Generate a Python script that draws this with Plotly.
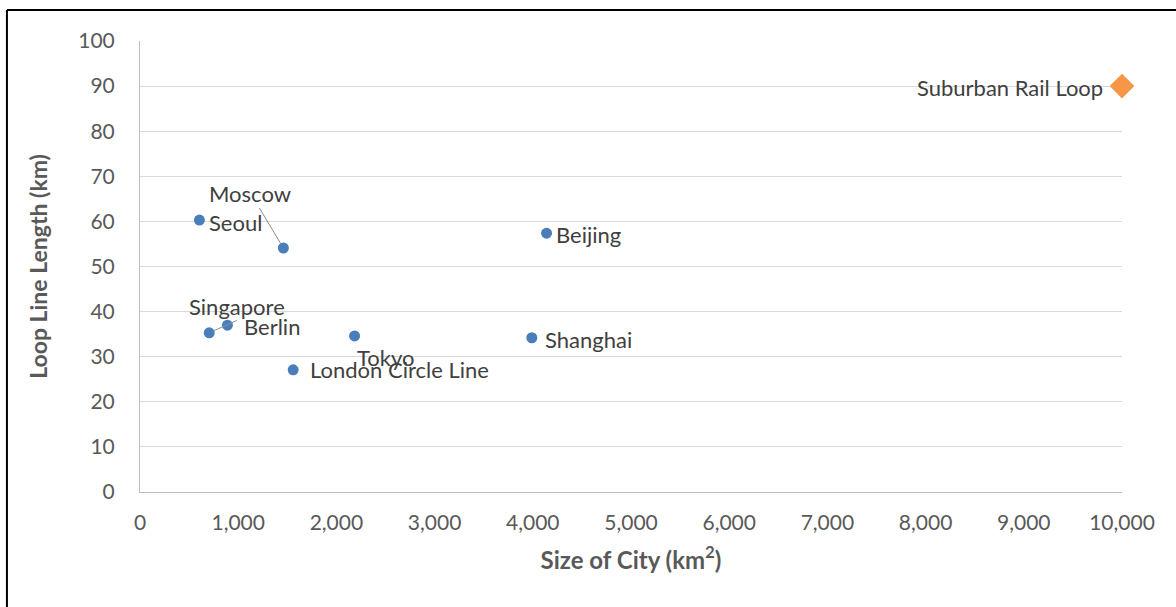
import plotly.graph_objects as go

# City loop lines: urban area (km²) vs loop length (km)
cities = ["Seoul", "Moscow", "Singapore", "Berlin", "Tokyo",
          "London Circle Line", "Beijing", "Shanghai"]
city_area = [605, 1460, 705, 890, 2185, 1560, 4140, 3990]
loop_length = [60.3, 54.1, 35.3, 37.0, 34.6, 27.1, 57.4, 34.2]

srl_name = ["Suburban Rail Loop"]
srl_area = [10000]
srl_length = [90]

x_ticks = list(range(0, 10001, 1000))
y_ticks = list(range(0, 101, 10))

# label placement per city: (xanchor, xshift, yshift)
label_pos = {
    "Seoul": ("left", 8, -2),
    "Singapore": ("center", 28, 26),
    "Berlin": ("left", 15, -1),
    "Tokyo": ("center", 31, -22),
    "London Circle Line": ("left", 15, 0),
    "Beijing": ("left", 7, -1),
    "Shanghai": ("left", 11, -2),
}

TXT = "#404040"
AX = "#595959"
FONT = "Lato"
LBL = 22

fig = go.Figure()
fig.add_trace(go.Scatter(
    x=city_area, y=loop_length, mode="markers", text=cities,
    marker=dict(color="#4A7EBB", size=11),
    hoverinfo="text+x+y", showlegend=False))
fig.add_trace(go.Scatter(
    x=srl_area, y=srl_length, mode="markers", text=srl_name,
    marker=dict(color="#F79646", size=19, symbol="diamond"),
    hoverinfo="text+x+y", showlegend=False, cliponaxis=False))

annotations = []
for name, xv, yv in zip(cities, city_area, loop_length):
    if name in label_pos:
        anc, dx, dy = label_pos[name]
        annotations.append(dict(x=xv, y=yv, text=name, showarrow=False,
                                xanchor=anc, xshift=dx, yshift=dy,
                                font=dict(family=FONT, size=LBL, color=TXT)))
# Moscow label with leader line
mi = cities.index("Moscow")
annotations.append(dict(x=city_area[mi], y=loop_length[mi], text="Moscow",
                        showarrow=True, arrowhead=0, arrowwidth=1,
                        arrowcolor="#8c8c8c", ax=-33, ay=-55, standoff=4,
                        font=dict(family=FONT, size=LBL, color=TXT)))
# leader line from Singapore point towards the Berlin label
si = cities.index("Singapore")
annotations.append(dict(x=city_area[si], y=loop_length[si], text="",
                        showarrow=True, arrowhead=0, arrowwidth=1,
                        arrowcolor="#8c8c8c", ax=29, ay=-13, standoff=4))
annotations.append(dict(x=srl_area[0], y=srl_length[0], text=srl_name[0],
                        showarrow=False, xanchor="right", xshift=-17,
                        yshift=-1, font=dict(family=FONT, size=LBL, color=TXT)))

# frame lines around the chart
shapes = [
    dict(type="line", xref="paper", yref="paper", x0=-0.1355, x1=1.1,
         y0=1.0687, y1=1.0687, line=dict(color="black", width=2)),
    dict(type="line", xref="paper", yref="paper", x0=-0.1355, x1=-0.1355,
         y0=1.0687, y1=-0.3, line=dict(color="black", width=2)),
]

fig.update_layout(
    width=1176, height=607,
    margin=dict(l=140, r=54, t=41, b=115),
    paper_bgcolor="white", plot_bgcolor="white",
    font=dict(family=FONT, color=AX),
    annotations=annotations, shapes=shapes,
    xaxis=dict(range=[0, 10000], tickvals=x_ticks, tickformat=",",
               showgrid=False, zeroline=False, showline=True,
               linecolor="#bfbfbf", linewidth=1, ticks="",
               ticklabelstandoff=12,
               tickfont=dict(family=FONT, size=21, color=AX),
               title=dict(text="<b>Size of City (km<sup>2</sup>)</b>",
                          font=dict(family=FONT, size=24, color=AX),
                          standoff=18)),
    yaxis=dict(range=[0, 100], tickvals=y_ticks, showgrid=True,
               gridcolor="#d9d9d9", zeroline=False, showline=True,
               linecolor="#bfbfbf", linewidth=1, ticks="",
               ticklabelstandoff=20,
               tickfont=dict(family=FONT, size=21, color=AX),
               title=dict(text="<b>Loop Line Length (km)</b>",
                          font=dict(family=FONT, size=23, color=AX),
                          standoff=24)),
)

fig.write_html("out.html")
